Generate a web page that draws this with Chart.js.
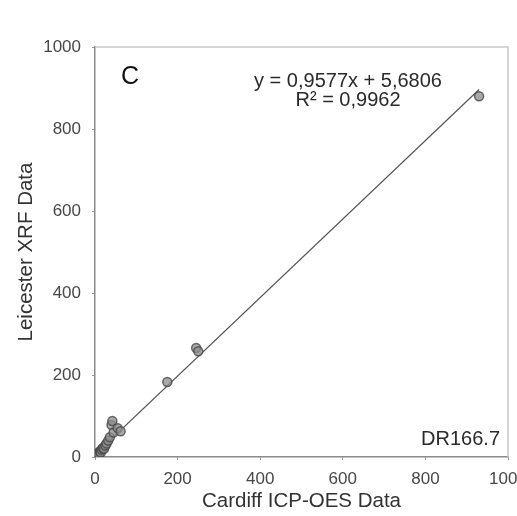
<!DOCTYPE html>
<html lang="en">
<head>
    <meta charset="UTF-8">
    <title>DR166.7 XRF vs ICP-OES</title>
    <script src="https://cdn.jsdelivr.net/npm/chart.js"></script>
    <style>
        body {
            margin: 0;
            background: #fff;
        }
        #wrap {
            width: 517px;
            height: 516px;
        }
    </style>
</head>
<body>
    <div id="wrap"><canvas id="xrfChart" width="517" height="516"></canvas></div>

    <script>
        // Cardiff ICP-OES (x) against Leicester XRF (y), sample DR166.7
        const icpValues = [2, 4, 6, 8, 10, 12, 14, 16, 19, 22, 25, 28, 32, 36, 40, 42, 45, 55, 62, 175, 245, 250, 930];
        const xrfValues = [3, 6, 2, 10, 7, 14, 11, 18, 22, 20, 28, 33, 40, 48, 78, 88, 60, 70, 63, 183, 266, 258, 880];

        // trendline coefficients from the fit
        const slope = 0.9577;
        const intercept = 5.6806;
        const rSquared = 0.9962;
        const fitRange = [0, 930];

        const axisTicks = [0, 200, 400, 600, 800, 1000];

        const fitLine = fitRange.map(x => ({ x: x, y: slope * x + intercept }));
        const points = icpValues.map((x, i) => ({ x: x, y: xrfValues[i] }));

        const fmt = v => v.toString().replace('.', ',');

        // labels drawn inside the plot area
        const notesPlugin = {
            id: 'notes',
            afterDatasetsDraw(chart) {
                const { ctx, chartArea } = chart;
                ctx.save();
                ctx.fillStyle = '#111';
                ctx.textBaseline = 'middle';
                ctx.font = '25px Arial';
                ctx.textAlign = 'left';
                ctx.fillText('C', chartArea.left + 26, chartArea.top + 30);

                ctx.font = '20px Arial';
                ctx.fillStyle = '#2a2a2a';
                ctx.textAlign = 'center';
                ctx.fillText('y = ' + fmt(slope) + 'x + ' + fmt(intercept), chartArea.left + 253, chartArea.top + 34);
                ctx.fillText('R\u00b2 = ' + fmt(rSquared), chartArea.left + 253, chartArea.top + 53);

                ctx.textAlign = 'right';
                ctx.fillText('DR166.7', chartArea.right - 8, chartArea.bottom - 18);
                ctx.restore();
            }
        };

        // light frame on top and right edges
        const framePlugin = {
            id: 'frame',
            beforeDatasetsDraw(chart) {
                const { ctx, chartArea } = chart;
                ctx.save();
                ctx.strokeStyle = '#c8c8c8';
                ctx.lineWidth = 1.5;
                ctx.beginPath();
                ctx.moveTo(chartArea.left, chartArea.top);
                ctx.lineTo(chartArea.right, chartArea.top);
                ctx.lineTo(chartArea.right, chartArea.bottom);
                ctx.stroke();
                ctx.restore();
            }
        };

        const axisStyle = (title, fitSize, isX) => ({
            type: 'linear',
            min: 0,
            max: 1000,
            afterBuildTicks: scale => { scale.ticks = axisTicks.map(v => ({ value: v })); },
            afterFit: scale => {
                if (isX) scale.height = fitSize; else scale.width = fitSize;
                scale.paddingLeft = 0;
                scale.paddingRight = 0;
                scale.paddingTop = 0;
                scale.paddingBottom = 0;
            },
            grid: {
                drawOnChartArea: false,
                drawTicks: true,
                tickLength: 3,
                color: '#999'
            },
            border: { color: '#8a8a8a', width: 1.5 },
            ticks: {
                color: '#484848',
                font: { family: 'Arial', size: 17 },
                padding: isX ? 9 : 11,
                maxRotation: 0,
                autoSkip: false,
                callback: v => String(v)
            },
            title: {
                display: true,
                text: title,
                color: '#333',
                font: { family: 'Arial', size: 20.5 },
                padding: isX ? { top: 0, bottom: 2 } : { top: 14, bottom: 0 }
            }
        });

        const ctx = document.getElementById('xrfChart').getContext('2d');
        new Chart(ctx, {
            type: 'scatter',
            data: {
                datasets: [
                    {
                        label: 'Linear fit',
                        type: 'line',
                        data: fitLine,
                        borderColor: '#555',
                        borderWidth: 1.2,
                        pointRadius: 0,
                        order: 2
                    },
                    {
                        label: 'DR166.7',
                        data: points,
                        backgroundColor: 'rgba(140,140,140,0.75)',
                        borderColor: 'rgba(70,70,70,0.8)',
                        borderWidth: 1.5,
                        pointRadius: 4.5,
                        order: 1
                    }
                ]
            },
            options: {
                responsive: false,
                animation: false,
                layout: { padding: { left: 0, top: 47, right: 9, bottom: 0 } },
                plugins: {
                    legend: { display: false },
                    tooltip: { enabled: false }
                },
                scales: {
                    x: axisStyle('Cardiff ICP-OES Data', 59, true),
                    y: axisStyle('Leicester XRF Data', 95, false)
                }
            },
            plugins: [framePlugin, notesPlugin]
        });
    </script>
</body>
</html>
